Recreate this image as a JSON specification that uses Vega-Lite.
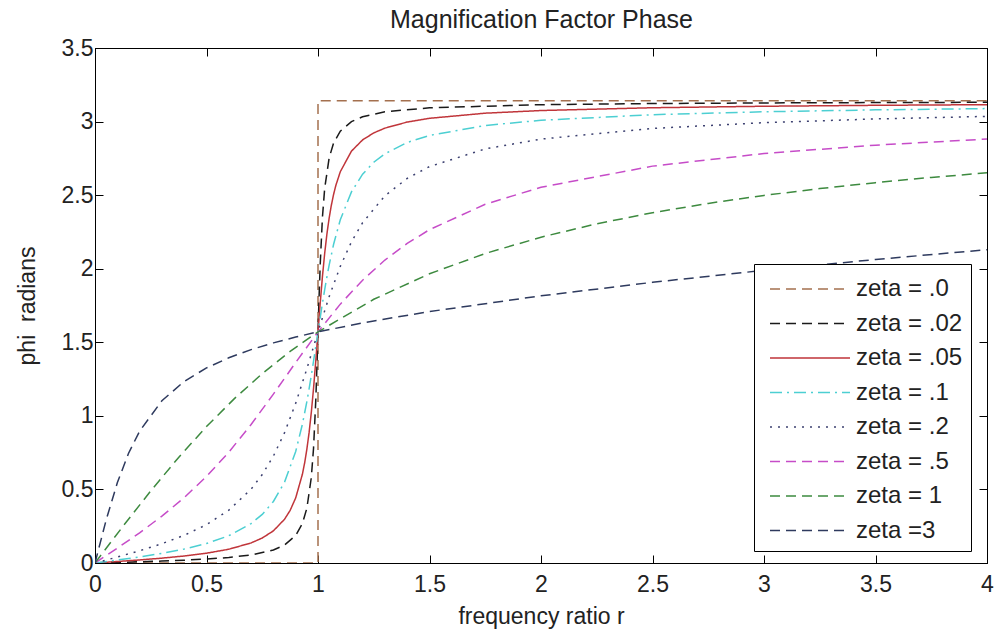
{
  "$schema": "https://vega.github.io/schema/vega-lite/v6.json",
  "width": 892,
  "height": 515,
  "autosize": {"type": "none"},
  "padding": {"left": 95, "top": 48, "right": 15, "bottom": 69},
  "background": "white",
  "config": {
    "font": "Liberation Sans",
    "view": {"stroke": "black", "strokeWidth": 1},
    "axis": {"grid": false, "domainColor": "black", "tickColor": "black", "labelColor": "#222222", "titleColor": "#222222", "labelFont": "Liberation Sans", "titleFont": "Liberation Sans", "labelFontSize": 23, "titleFontSize": 23, "titleFontWeight": "normal", "tickSize": -8, "labelFlush": false, "labelOverlap": false},
    "legend": {"orient": "none", "legendX": 659, "legendY": 216, "padding": 8, "strokeColor": "black", "fillColor": "white", "symbolType": "M-2.5,0H2.5", "symbolSize": 1024, "symbolStrokeWidth": 1.5, "symbolOffset": 31, "labelFontSize": 24, "labelFont": "Liberation Sans", "labelColor": "#222222", "labelOffset": 29, "labelLimit": 300, "rowPadding": 5.5}
  },
  "data": {"values": [
    {"zeta": "zeta = .0", "r": 0, "phi": 0},
    {"zeta": "zeta = .0", "r": 1, "phi": 0},
    {"zeta": "zeta = .0", "r": 1, "phi": 3.1416},
    {"zeta": "zeta = .0", "r": 4, "phi": 3.1416},

    {"zeta": "zeta = .02", "r": 0, "phi": 0},
    {"zeta": "zeta = .02", "r": 0.1, "phi": 0.004},
    {"zeta": "zeta = .02", "r": 0.2, "phi": 0.0083},
    {"zeta": "zeta = .02", "r": 0.3, "phi": 0.0132},
    {"zeta": "zeta = .02", "r": 0.4, "phi": 0.019},
    {"zeta": "zeta = .02", "r": 0.5, "phi": 0.0267},
    {"zeta": "zeta = .02", "r": 0.6, "phi": 0.0375},
    {"zeta": "zeta = .02", "r": 0.7, "phi": 0.0548},
    {"zeta": "zeta = .02", "r": 0.8, "phi": 0.0887},
    {"zeta": "zeta = .02", "r": 0.85, "phi": 0.1219},
    {"zeta": "zeta = .02", "r": 0.9, "phi": 0.1873},
    {"zeta": "zeta = .02", "r": 0.93, "phi": 0.2687},
    {"zeta": "zeta = .02", "r": 0.95, "phi": 0.3716},
    {"zeta": "zeta = .02", "r": 0.97, "phi": 0.5809},
    {"zeta": "zeta = .02", "r": 0.98, "phi": 0.7803},
    {"zeta": "zeta = .02", "r": 0.99, "phi": 1.1051},
    {"zeta": "zeta = .02", "r": 0.995, "phi": 1.3252},
    {"zeta": "zeta = .02", "r": 0.998, "phi": 1.4711},
    {"zeta": "zeta = .02", "r": 1, "phi": 1.5708},
    {"zeta": "zeta = .02", "r": 1.002, "phi": 1.6704},
    {"zeta": "zeta = .02", "r": 1.005, "phi": 1.8153},
    {"zeta": "zeta = .02", "r": 1.01, "phi": 2.0325},
    {"zeta": "zeta = .02", "r": 1.02, "phi": 2.3513},
    {"zeta": "zeta = .02", "r": 1.03, "phi": 2.5468},
    {"zeta": "zeta = .02", "r": 1.05, "phi": 2.7527},
    {"zeta": "zeta = .02", "r": 1.07, "phi": 2.8543},
    {"zeta": "zeta = .02", "r": 1.1, "phi": 2.9351},
    {"zeta": "zeta = .02", "r": 1.15, "phi": 2.9999},
    {"zeta": "zeta = .02", "r": 1.2, "phi": 3.0329},
    {"zeta": "zeta = .02", "r": 1.3, "phi": 3.0664},
    {"zeta": "zeta = .02", "r": 1.5, "phi": 3.0936},
    {"zeta": "zeta = .02", "r": 2, "phi": 3.1149},
    {"zeta": "zeta = .02", "r": 2.5, "phi": 3.1226},
    {"zeta": "zeta = .02", "r": 3, "phi": 3.1266},
    {"zeta": "zeta = .02", "r": 3.5, "phi": 3.1292},
    {"zeta": "zeta = .02", "r": 4, "phi": 3.1309},

    {"zeta": "zeta = .05", "r": 0, "phi": 0},
    {"zeta": "zeta = .05", "r": 0.1, "phi": 0.0101},
    {"zeta": "zeta = .05", "r": 0.2, "phi": 0.0208},
    {"zeta": "zeta = .05", "r": 0.3, "phi": 0.033},
    {"zeta": "zeta = .05", "r": 0.4, "phi": 0.0476},
    {"zeta": "zeta = .05", "r": 0.5, "phi": 0.0666},
    {"zeta": "zeta = .05", "r": 0.6, "phi": 0.0935},
    {"zeta": "zeta = .05", "r": 0.7, "phi": 0.1364},
    {"zeta": "zeta = .05", "r": 0.75, "phi": 0.1698},
    {"zeta": "zeta = .05", "r": 0.8, "phi": 0.2186},
    {"zeta": "zeta = .05", "r": 0.85, "phi": 0.2973},
    {"zeta": "zeta = .05", "r": 0.875, "phi": 0.3574},
    {"zeta": "zeta = .05", "r": 0.9, "phi": 0.4425},
    {"zeta": "zeta = .05", "r": 0.93, "phi": 0.6029},
    {"zeta": "zeta = .05", "r": 0.94, "phi": 0.6794},
    {"zeta": "zeta = .05", "r": 0.95, "phi": 0.7724},
    {"zeta": "zeta = .05", "r": 0.96, "phi": 0.886},
    {"zeta": "zeta = .05", "r": 0.97, "phi": 1.0236},
    {"zeta": "zeta = .05", "r": 0.98, "phi": 1.1866},
    {"zeta": "zeta = .05", "r": 0.99, "phi": 1.3724},
    {"zeta": "zeta = .05", "r": 1, "phi": 1.5708},
    {"zeta": "zeta = .05", "r": 1.01, "phi": 1.7672},
    {"zeta": "zeta = .05", "r": 1.02, "phi": 1.9482},
    {"zeta": "zeta = .05", "r": 1.03, "phi": 2.1047},
    {"zeta": "zeta = .05", "r": 1.04, "phi": 2.2361},
    {"zeta": "zeta = .05", "r": 1.05, "phi": 2.3441},
    {"zeta": "zeta = .05", "r": 1.06, "phi": 2.4327},
    {"zeta": "zeta = .05", "r": 1.07, "phi": 2.5056},
    {"zeta": "zeta = .05", "r": 1.08, "phi": 2.566},
    {"zeta": "zeta = .05", "r": 1.1, "phi": 2.6591},
    {"zeta": "zeta = .05", "r": 1.15, "phi": 2.799},
    {"zeta": "zeta = .05", "r": 1.2, "phi": 2.8754},
    {"zeta": "zeta = .05", "r": 1.25, "phi": 2.923},
    {"zeta": "zeta = .05", "r": 1.3, "phi": 2.9554},
    {"zeta": "zeta = .05", "r": 1.4, "phi": 2.9968},
    {"zeta": "zeta = .05", "r": 1.5, "phi": 3.0222},
    {"zeta": "zeta = .05", "r": 1.75, "phi": 3.057},
    {"zeta": "zeta = .05", "r": 2, "phi": 3.075},
    {"zeta": "zeta = .05", "r": 2.5, "phi": 3.094},
    {"zeta": "zeta = .05", "r": 3, "phi": 3.1041},
    {"zeta": "zeta = .05", "r": 3.5, "phi": 3.1105},
    {"zeta": "zeta = .05", "r": 4, "phi": 3.1149},

    {"zeta": "zeta = .1", "r": 0, "phi": 0},
    {"zeta": "zeta = .1", "r": 0.1, "phi": 0.0202},
    {"zeta": "zeta = .1", "r": 0.2, "phi": 0.0416},
    {"zeta": "zeta = .1", "r": 0.3, "phi": 0.0658},
    {"zeta": "zeta = .1", "r": 0.4, "phi": 0.095},
    {"zeta": "zeta = .1", "r": 0.5, "phi": 0.1326},
    {"zeta": "zeta = .1", "r": 0.6, "phi": 0.1853},
    {"zeta": "zeta = .1", "r": 0.7, "phi": 0.268},
    {"zeta": "zeta = .1", "r": 0.75, "phi": 0.3302},
    {"zeta": "zeta = .1", "r": 0.8, "phi": 0.4182},
    {"zeta": "zeta = .1", "r": 0.85, "phi": 0.5496},
    {"zeta": "zeta = .1", "r": 0.9, "phi": 0.7584},
    {"zeta": "zeta = .1", "r": 0.93, "phi": 0.9426},
    {"zeta": "zeta = .1", "r": 0.95, "phi": 1.0967},
    {"zeta": "zeta = .1", "r": 0.96, "phi": 1.1829},
    {"zeta": "zeta = .1", "r": 0.97, "phi": 1.275},
    {"zeta": "zeta = .1", "r": 0.98, "phi": 1.3715},
    {"zeta": "zeta = .1", "r": 0.99, "phi": 1.4706},
    {"zeta": "zeta = .1", "r": 1, "phi": 1.5708},
    {"zeta": "zeta = .1", "r": 1.01, "phi": 1.67},
    {"zeta": "zeta = .1", "r": 1.02, "phi": 1.7663},
    {"zeta": "zeta = .1", "r": 1.03, "phi": 1.8583},
    {"zeta": "zeta = .1", "r": 1.04, "phi": 1.9449},
    {"zeta": "zeta = .1", "r": 1.05, "phi": 2.0248},
    {"zeta": "zeta = .1", "r": 1.07, "phi": 2.166},
    {"zeta": "zeta = .1", "r": 1.1, "phi": 2.333},
    {"zeta": "zeta = .1", "r": 1.15, "phi": 2.5221},
    {"zeta": "zeta = .1", "r": 1.2, "phi": 2.6423},
    {"zeta": "zeta = .1", "r": 1.25, "phi": 2.7234},
    {"zeta": "zeta = .1", "r": 1.3, "phi": 2.7811},
    {"zeta": "zeta = .1", "r": 1.4, "phi": 2.8578},
    {"zeta": "zeta = .1", "r": 1.5, "phi": 2.906},
    {"zeta": "zeta = .1", "r": 1.75, "phi": 2.9735},
    {"zeta": "zeta = .1", "r": 2, "phi": 3.009},
    {"zeta": "zeta = .1", "r": 2.5, "phi": 3.0466},
    {"zeta": "zeta = .1", "r": 3, "phi": 3.0667},
    {"zeta": "zeta = .1", "r": 3.5, "phi": 3.0795},
    {"zeta": "zeta = .1", "r": 4, "phi": 3.0883},

    {"zeta": "zeta = .2", "r": 0, "phi": 0},
    {"zeta": "zeta = .2", "r": 0.1, "phi": 0.0404},
    {"zeta": "zeta = .2", "r": 0.2, "phi": 0.0831},
    {"zeta": "zeta = .2", "r": 0.3, "phi": 0.1311},
    {"zeta": "zeta = .2", "r": 0.4, "phi": 0.1882},
    {"zeta": "zeta = .2", "r": 0.5, "phi": 0.2606},
    {"zeta": "zeta = .2", "r": 0.6, "phi": 0.3588},
    {"zeta": "zeta = .2", "r": 0.7, "phi": 0.502},
    {"zeta": "zeta = .2", "r": 0.75, "phi": 0.6011},
    {"zeta": "zeta = .2", "r": 0.8, "phi": 0.7267},
    {"zeta": "zeta = .2", "r": 0.85, "phi": 0.8863},
    {"zeta": "zeta = .2", "r": 0.9, "phi": 1.0852},
    {"zeta": "zeta = .2", "r": 0.95, "phi": 1.3196},
    {"zeta": "zeta = .2", "r": 1, "phi": 1.5708},
    {"zeta": "zeta = .2", "r": 1.05, "phi": 1.8101},
    {"zeta": "zeta = .2", "r": 1.1, "phi": 2.0163},
    {"zeta": "zeta = .2", "r": 1.15, "phi": 2.1823},
    {"zeta": "zeta = .2", "r": 1.2, "phi": 2.3127},
    {"zeta": "zeta = .2", "r": 1.3, "phi": 2.4958},
    {"zeta": "zeta = .2", "r": 1.4, "phi": 2.6136},
    {"zeta": "zeta = .2", "r": 1.5, "phi": 2.6941},
    {"zeta": "zeta = .2", "r": 1.75, "phi": 2.8143},
    {"zeta": "zeta = .2", "r": 2, "phi": 2.881},
    {"zeta": "zeta = .2", "r": 2.5, "phi": 2.9534},
    {"zeta": "zeta = .2", "r": 3, "phi": 2.9927},
    {"zeta": "zeta = .2", "r": 3.5, "phi": 3.0178},
    {"zeta": "zeta = .2", "r": 4, "phi": 3.0353},

    {"zeta": "zeta = .5", "r": 0, "phi": 0},
    {"zeta": "zeta = .5", "r": 0.1, "phi": 0.1007},
    {"zeta": "zeta = .5", "r": 0.2, "phi": 0.2054},
    {"zeta": "zeta = .5", "r": 0.3, "phi": 0.3184},
    {"zeta": "zeta = .5", "r": 0.4, "phi": 0.4446},
    {"zeta": "zeta = .5", "r": 0.5, "phi": 0.588},
    {"zeta": "zeta = .5", "r": 0.6, "phi": 0.7531},
    {"zeta": "zeta = .5", "r": 0.7, "phi": 0.9411},
    {"zeta": "zeta = .5", "r": 0.8, "phi": 1.1479},
    {"zeta": "zeta = .5", "r": 0.9, "phi": 1.3627},
    {"zeta": "zeta = .5", "r": 1, "phi": 1.5708},
    {"zeta": "zeta = .5", "r": 1.1, "phi": 1.7594},
    {"zeta": "zeta = .5", "r": 1.2, "phi": 1.9222},
    {"zeta": "zeta = .5", "r": 1.3, "phi": 2.0588},
    {"zeta": "zeta = .5", "r": 1.4, "phi": 2.1719},
    {"zeta": "zeta = .5", "r": 1.5, "phi": 2.2655},
    {"zeta": "zeta = .5", "r": 1.75, "phi": 2.438},
    {"zeta": "zeta = .5", "r": 2, "phi": 2.5536},
    {"zeta": "zeta = .5", "r": 2.5, "phi": 2.6972},
    {"zeta": "zeta = .5", "r": 3, "phi": 2.7828},
    {"zeta": "zeta = .5", "r": 3.5, "phi": 2.8399},
    {"zeta": "zeta = .5", "r": 4, "phi": 2.881},

    {"zeta": "zeta = 1", "r": 0, "phi": 0},
    {"zeta": "zeta = 1", "r": 0.125, "phi": 0.2487},
    {"zeta": "zeta = 1", "r": 0.25, "phi": 0.49},
    {"zeta": "zeta = 1", "r": 0.375, "phi": 0.7176},
    {"zeta": "zeta = 1", "r": 0.5, "phi": 0.9273},
    {"zeta": "zeta = 1", "r": 0.625, "phi": 1.1172},
    {"zeta": "zeta = 1", "r": 0.75, "phi": 1.287},
    {"zeta": "zeta = 1", "r": 0.875, "phi": 1.4376},
    {"zeta": "zeta = 1", "r": 1, "phi": 1.5708},
    {"zeta": "zeta = 1", "r": 1.25, "phi": 1.7922},
    {"zeta": "zeta = 1", "r": 1.5, "phi": 1.9656},
    {"zeta": "zeta = 1", "r": 1.75, "phi": 2.1035},
    {"zeta": "zeta = 1", "r": 2, "phi": 2.2143},
    {"zeta": "zeta = 1", "r": 2.25, "phi": 2.3052},
    {"zeta": "zeta = 1", "r": 2.5, "phi": 2.3805},
    {"zeta": "zeta = 1", "r": 2.75, "phi": 2.444},
    {"zeta": "zeta = 1", "r": 3, "phi": 2.4981},
    {"zeta": "zeta = 1", "r": 3.25, "phi": 2.5446},
    {"zeta": "zeta = 1", "r": 3.5, "phi": 2.585},
    {"zeta": "zeta = 1", "r": 3.75, "phi": 2.6204},
    {"zeta": "zeta = 1", "r": 4, "phi": 2.6516},

    {"zeta": "zeta =3", "r": 0, "phi": 0},
    {"zeta": "zeta =3", "r": 0.05, "phi": 0.2922},
    {"zeta": "zeta =3", "r": 0.1, "phi": 0.5449},
    {"zeta": "zeta =3", "r": 0.15, "phi": 0.7441},
    {"zeta": "zeta =3", "r": 0.2, "phi": 0.8961},
    {"zeta": "zeta =3", "r": 0.3, "phi": 1.1027},
    {"zeta": "zeta =3", "r": 0.4, "phi": 1.2341},
    {"zeta": "zeta =3", "r": 0.5, "phi": 1.3258},
    {"zeta": "zeta =3", "r": 0.6, "phi": 1.3948},
    {"zeta": "zeta =3", "r": 0.7, "phi": 1.45},
    {"zeta": "zeta =3", "r": 0.8, "phi": 1.4959},
    {"zeta": "zeta =3", "r": 0.9, "phi": 1.5356},
    {"zeta": "zeta =3", "r": 1, "phi": 1.5708},
    {"zeta": "zeta =3", "r": 1.2, "phi": 1.6319},
    {"zeta": "zeta =3", "r": 1.5, "phi": 1.7088},
    {"zeta": "zeta =3", "r": 2, "phi": 1.8158},
    {"zeta": "zeta =3", "r": 2.5, "phi": 1.9075},
    {"zeta": "zeta =3", "r": 3, "phi": 1.989},
    {"zeta": "zeta =3", "r": 3.5, "phi": 2.0627},
    {"zeta": "zeta =3", "r": 4, "phi": 2.1294}
  ]},
  "layer": [
    {
      "mark": {"type": "line", "strokeWidth": 1.5, "clip": true},
      "encoding": {
        "x": {"field": "r", "type": "quantitative", "scale": {"domain": [0, 4], "nice": false, "zero": false},
              "axis": {"title": "frequency ratio r", "values": [0, 0.5, 1, 1.5, 2, 2.5, 3, 3.5, 4], "format": "~g", "labelPadding": 18, "titleY": 60, "titleBaseline": "alphabetic"}},
        "y": {"field": "phi", "type": "quantitative", "scale": {"domain": [0, 3.5], "nice": false, "zero": false},
              "axis": {"title": "phi\u00a0 radians", "values": [0, 0.5, 1, 1.5, 2, 2.5, 3, 3.5], "format": "~g", "labelPadding": 10, "titleX": -61, "titleBaseline": "alphabetic"}},
        "color": {"field": "zeta", "type": "nominal",
                  "scale": {"domain": ["zeta = .0", "zeta = .02", "zeta = .05", "zeta = .1", "zeta = .2", "zeta = .5", "zeta = 1", "zeta =3"],
                            "range": ["#A4704F", "#1A1A1A", "#C0353A", "#4CCFD2", "#3C4070", "#C64CC8", "#3D8A3F", "#2E3A5E"]},
                  "legend": {"title": null}},
        "strokeDash": {"field": "zeta", "type": "nominal",
                  "scale": {"domain": ["zeta = .0", "zeta = .02", "zeta = .05", "zeta = .1", "zeta = .2", "zeta = .5", "zeta = 1", "zeta =3"],
                            "range": [[10, 6], [10, 6], [1, 0], [12, 5, 2, 5], [2, 6], [10, 6], [10, 6], [10, 6]]},
                  "legend": {"title": null}},
        "order": {"value": null}
      }
    },
    {
      "mark": {"type": "point", "opacity": 0},
      "encoding": {
        "x": {"field": "r", "type": "quantitative", "axis": {"orient": "top", "title": "Magnification Factor Phase", "titleFontSize": 25, "titleY": -21, "titleBaseline": "alphabetic", "labels": false, "values": [0, 0.5, 1, 1.5, 2, 2.5, 3, 3.5, 4]}},
        "y": {"field": "phi", "type": "quantitative", "axis": {"orient": "right", "title": null, "labels": false, "values": [0, 0.5, 1, 1.5, 2, 2.5, 3, 3.5]}}
      }
    }
  ],
  "resolve": {"axis": {"x": "independent", "y": "independent"}}
}
